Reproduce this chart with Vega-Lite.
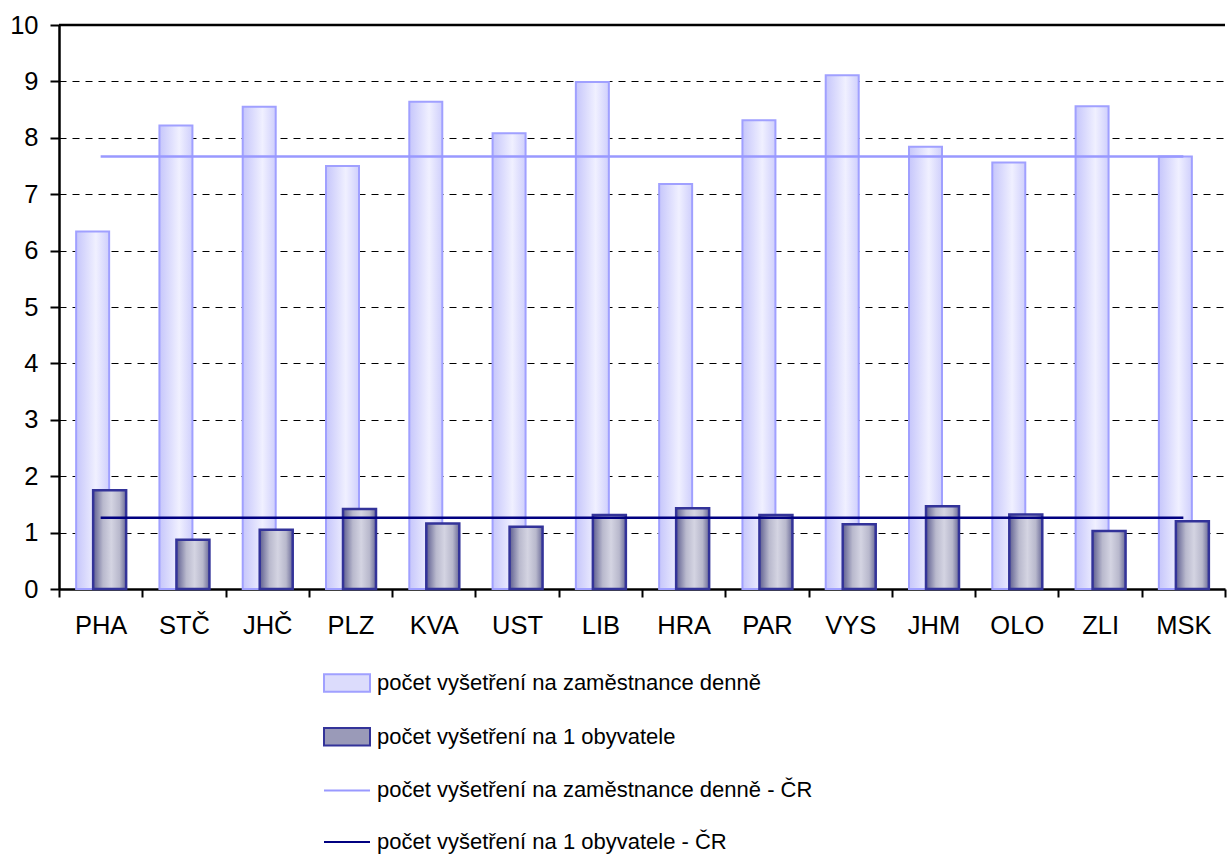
{
  "$schema": "https://vega.github.io/schema/vega-lite/v6.json",
  "width": 1166,
  "height": 564,
  "autosize": {"type": "none"},
  "padding": {"left": 59, "top": 25, "right": 2, "bottom": 265},
  "background": "white",
  "config": {
    "view": {"stroke": null},
    "font": "Liberation Sans",
    "axis": {"labelFont": "Liberation Sans", "labelFontSize": 25.5, "labelColor": "black", "domainColor": "black", "tickColor": "black", "title": null}
  },
  "datasets": {
    "regions": [
      {"region": "PHA", "staff": 6.34, "pop": 1.75},
      {"region": "STČ", "staff": 8.22, "pop": 0.875},
      {"region": "JHČ", "staff": 8.55, "pop": 1.05},
      {"region": "PLZ", "staff": 7.5, "pop": 1.42},
      {"region": "KVA", "staff": 8.64, "pop": 1.16},
      {"region": "UST", "staff": 8.08, "pop": 1.105},
      {"region": "LIB", "staff": 8.99, "pop": 1.31},
      {"region": "HRA", "staff": 7.18, "pop": 1.43},
      {"region": "PAR", "staff": 8.31, "pop": 1.31},
      {"region": "VYS", "staff": 9.11, "pop": 1.15},
      {"region": "JHM", "staff": 7.84, "pop": 1.465},
      {"region": "OLO", "staff": 7.56, "pop": 1.32},
      {"region": "ZLI", "staff": 8.56, "pop": 1.03},
      {"region": "MSK", "staff": 7.67, "pop": 1.2}
    ],
    "cr": [
      {"region": "PHA", "staff": 7.67, "pop": 1.265},
      {"region": "MSK", "staff": 7.67, "pop": 1.265}
    ],
    "leg": [
      {"series": "počet vyšetření na zaměstnance denně"},
      {"series": "počet vyšetření na 1 obyvatele"},
      {"series": "počet vyšetření na zaměstnance denně - ČR"},
      {"series": "počet vyšetření na 1 obyvatele - ČR"}
    ]
  },
  "layer": [
    {
      "data": {"name": "regions"},
      "mark": {
        "type": "bar", "width": 33, "xOffset": -8,
        "fill": {"gradient": "linear", "x1": 0, "x2": 1, "y1": 0, "y2": 0,
          "stops": [{"offset": 0, "color": "#c6c6fb"}, {"offset": 0.6, "color": "#f0f0ff"}, {"offset": 1, "color": "#cfcffc"}]},
        "stroke": "#a0a0ff", "strokeWidth": 2
      },
      "encoding": {
        "x": {
          "field": "region", "type": "nominal",
          "scale": {"domain": ["PHA", "STČ", "JHČ", "PLZ", "KVA", "UST", "LIB", "HRA", "PAR", "VYS", "JHM", "OLO", "ZLI", "MSK"], "paddingInner": 0, "paddingOuter": 0},
          "axis": {"labelAngle": 0, "tickBand": "extent", "domainWidth": 2.5, "tickWidth": 2, "tickSize": 8, "labelPadding": 16, "grid": false}
        },
        "y": {
          "field": "staff", "type": "quantitative",
          "scale": {"domain": [0, 10], "nice": false},
          "axis": {"values": [0, 1, 2, 3, 4, 5, 6, 7, 8, 9, 10], "format": "d", "grid": true, "gridColor": "black", "gridDash": [7, 6], "gridWidth": 1, "domainWidth": 2.5, "tickWidth": 2, "tickSize": 9, "labelPadding": 12}
        }
      }
    },
    {
      "data": {"name": "regions"},
      "mark": {
        "type": "bar", "width": 33, "xOffset": 9,
        "fill": {"gradient": "linear", "x1": 0, "x2": 1, "y1": 0, "y2": 0,
          "stops": [{"offset": 0, "color": "#5e5e90"}, {"offset": 0.3, "color": "#b9b9cd"}, {"offset": 0.55, "color": "#d4d4e2"}, {"offset": 0.8, "color": "#b8b8cc"}, {"offset": 1, "color": "#6a6a98"}]},
        "stroke": "#333399", "strokeWidth": 2.5
      },
      "encoding": {
        "x": {"field": "region", "type": "nominal"},
        "y": {"field": "pop", "type": "quantitative"}
      }
    },
    {
      "data": {"name": "cr"},
      "mark": {"type": "line", "stroke": "#9999ff", "strokeWidth": 2.5},
      "encoding": {
        "x": {"field": "region", "type": "nominal"},
        "y": {"field": "staff", "type": "quantitative"}
      }
    },
    {
      "data": {"name": "cr"},
      "mark": {"type": "line", "stroke": "#000080", "strokeWidth": 2.5},
      "encoding": {
        "x": {"field": "region", "type": "nominal"},
        "y": {"field": "pop", "type": "quantitative"}
      }
    },
    {
      "data": {"values": [{"top": 10}]},
      "mark": {"type": "rule", "color": "black", "strokeWidth": 2.5},
      "encoding": {"y": {"field": "top", "type": "quantitative"}}
    },
    {
      "data": {"name": "leg"},
      "mark": {"type": "point", "filled": true, "opacity": 0, "strokeWidth": 2},
      "encoding": {
        "x": {"datum": "PHA"},
        "y": {"datum": 0},
        "shape": {
          "field": "series", "type": "nominal",
          "scale": {"domain": ["počet vyšetření na zaměstnance denně", "počet vyšetření na 1 obyvatele", "počet vyšetření na zaměstnance denně - ČR", "počet vyšetření na 1 obyvatele - ČR"],
            "range": ["M-1,-0.38H1V0.38H-1Z", "M-1,-0.38H1V0.38H-1Z", "M-1,0H1", "M-1,0H1"]},
          "legend": {"orient": "none", "legendX": 264, "legendY": 634, "direction": "vertical", "title": null, "labelFont": "Liberation Sans", "labelFontSize": 22, "labelColor": "black", "symbolSize": 2116, "rowPadding": 16.7, "labelOffset": 6, "symbolStrokeWidth": 2, "symbolOpacity": 1, "labelLimit": 0}
        },
        "fill": {
          "field": "series", "type": "nominal",
          "scale": {"domain": ["počet vyšetření na zaměstnance denně", "počet vyšetření na 1 obyvatele", "počet vyšetření na zaměstnance denně - ČR", "počet vyšetření na 1 obyvatele - ČR"],
            "range": ["#dcdcfc", "#9a9ab8", "transparent", "transparent"]},
          "legend": {"orient": "none", "legendX": 264, "legendY": 634, "direction": "vertical", "title": null, "labelFont": "Liberation Sans", "labelFontSize": 22, "labelColor": "black", "symbolSize": 2116, "rowPadding": 16.7, "labelOffset": 6, "symbolStrokeWidth": 2, "symbolOpacity": 1, "labelLimit": 0}
        },
        "stroke": {
          "field": "series", "type": "nominal",
          "scale": {"domain": ["počet vyšetření na zaměstnance denně", "počet vyšetření na 1 obyvatele", "počet vyšetření na zaměstnance denně - ČR", "počet vyšetření na 1 obyvatele - ČR"],
            "range": ["#a0a0ff", "#333399", "#9999ff", "#000080"]},
          "legend": {"orient": "none", "legendX": 264, "legendY": 634, "direction": "vertical", "title": null, "labelFont": "Liberation Sans", "labelFontSize": 22, "labelColor": "black", "symbolSize": 2116, "rowPadding": 16.7, "labelOffset": 6, "symbolStrokeWidth": 2, "symbolOpacity": 1, "labelLimit": 0}
        }
      }
    }
  ]
}
